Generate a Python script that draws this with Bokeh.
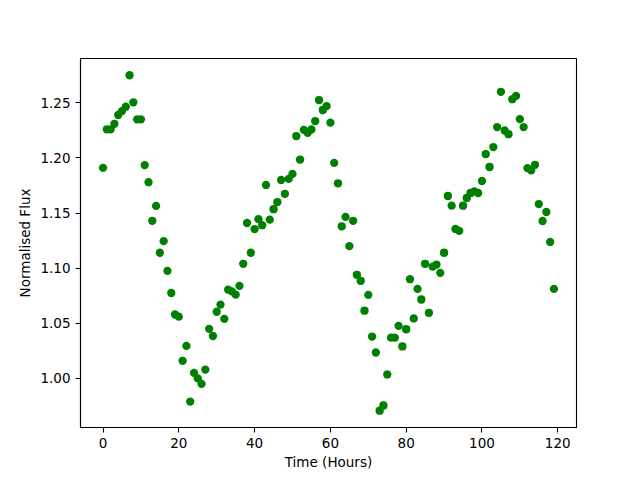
from bokeh.plotting import figure
from bokeh.models import FixedTicker, ColumnDataSource, PrintfTickFormatter
from bokeh.embed import file_html
from bokeh.resources import INLINE

hours = list(range(120))
flux = [
    1.191, 1.226, 1.226, 1.231, 1.239, 1.2425, 1.2465, 1.275, 1.2505, 1.235,
    1.235, 1.1935, 1.178, 1.143, 1.1565, 1.114, 1.1245, 1.0975, 1.0775, 1.058,
    1.056, 1.016, 1.0295, 0.979, 1.005, 1.000, 0.995, 1.008, 1.045, 1.0385,
    1.0605, 1.067, 1.054, 1.0805, 1.079, 1.076, 1.084, 1.104, 1.141, 1.114,
    1.1355, 1.1445, 1.139, 1.1755, 1.144, 1.1535, 1.160, 1.180, 1.1675, 1.181,
    1.1855, 1.2198, 1.1985, 1.2255, 1.2228, 1.2258, 1.2335, 1.2525, 1.2435, 1.247,
    1.232, 1.1955, 1.177, 1.138, 1.1465, 1.120, 1.143, 1.094, 1.0885, 1.0615,
    1.0758, 1.038, 1.0235, 0.9707, 0.9755, 1.0036, 1.037, 1.037, 1.0477, 1.029,
    1.0446, 1.090, 1.0544, 1.0812, 1.0716, 1.104, 1.0595, 1.1014, 1.1033, 1.0958,
    1.114, 1.1655, 1.1567, 1.1356, 1.1338, 1.1567, 1.1637, 1.1682, 1.1697, 1.1682,
    1.1791, 1.2035, 1.1918, 1.2099, 1.228, 1.26, 1.2249, 1.2216, 1.2533, 1.2563,
    1.2352, 1.228, 1.1908, 1.1887, 1.1938, 1.1582, 1.1428, 1.151, 1.1238, 1.0812,
]
x_ticks = [0, 20, 40, 60, 80, 100, 120]
y_ticks = [1.00, 1.05, 1.10, 1.15, 1.20, 1.25]

xmin, xmax = min(hours), max(hours)
ymin, ymax = min(flux), max(flux)
xpad = (xmax - xmin) * 0.05
ypad = (ymax - ymin) * 0.05

p = figure(
    frame_width=496, frame_height=369,
    x_range=(xmin - xpad, xmax + xpad),
    y_range=(ymin - ypad, ymax + ypad),
    output_backend="svg", toolbar_location=None,
    min_border_left=80, min_border_right=56,
    min_border_top=58, min_border_bottom=45,
    background_fill_color="white", border_fill_color="white",
)

src = ColumnDataSource(dict(x=hours, y=flux))
p.scatter("x", "y", source=src, size=8.3, fill_color="green",
          line_color="green", line_width=0)

p.grid.visible = False
p.outline_line_color = "black"
p.outline_line_width = 1.1
p.outline_line_alpha = 1.0

p.xaxis.ticker = FixedTicker(ticks=x_ticks)
p.yaxis.ticker = FixedTicker(ticks=y_ticks)
p.yaxis.formatter = PrintfTickFormatter(format="%.2f")
p.xaxis.axis_label = "Time (Hours)"
p.yaxis.axis_label = "Normalised Flux"

for ax in (p.xaxis, p.yaxis):
    ax.axis_line_color = "black"
    ax.axis_line_width = 1.1
    ax.major_tick_line_color = "black"
    ax.major_tick_line_width = 1.1
    ax.major_tick_in = 0
    ax.major_tick_out = 5
    ax.minor_tick_line_color = None
    ax.major_label_text_font = "DejaVu Sans"
    ax.major_label_text_font_size = "13.5px"
    ax.major_label_text_color = "black"
    ax.major_label_standoff = 5
    ax.axis_label_text_font = "DejaVu Sans"
    ax.axis_label_text_font_size = "13.5px"
    ax.axis_label_text_font_style = "normal"
    ax.axis_label_text_color = "black"

p.xaxis.axis_label_standoff = 3
p.yaxis.axis_label_standoff = 4

open("out.html", "w").write(file_html(p, INLINE))
